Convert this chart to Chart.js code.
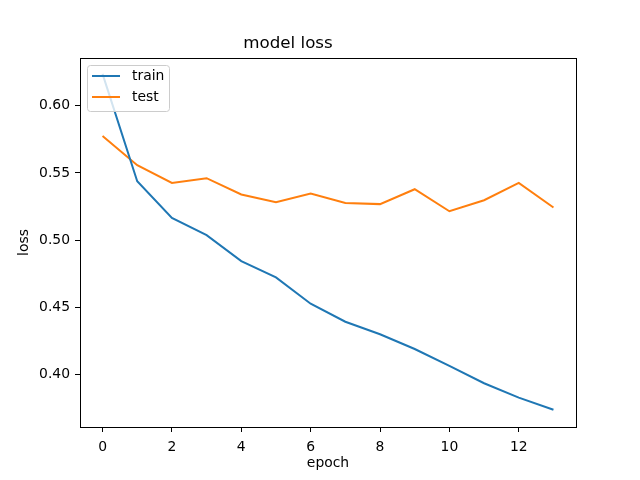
<!DOCTYPE html>
<html><head><meta charset="utf-8">
<script src="https://cdn.jsdelivr.net/npm/chart.js@4/dist/chart.umd.min.js"></script>
<style>html,body{margin:0;padding:0;background:#fff}#wrap{width:640px;height:480px}</style>
</head><body><div id="wrap"><canvas id="c" width="640" height="480"></canvas></div>
<script>
const epochs = [0,1,2,3,4,5,6,7,8,9,10,11,12,13];
const trainLoss = [0.6238,0.5438,0.5166,0.5037,0.4844,0.4722,0.4526,0.4392,0.4299,0.4189,0.4063,0.3934,0.3827,0.3736];
const testLoss  = [0.5775,0.5558,0.5426,0.5461,0.5340,0.5282,0.5347,0.5277,0.5268,0.5379,0.5215,0.5297,0.5426,0.5243];
const xTicks = [0,2,4,6,8,10,12];
const yTicks = [0.40,0.45,0.50,0.55,0.60];

const FONT = "'DejaVu Sans', sans-serif";
Chart.defaults.font.family = FONT;
Chart.defaults.color = '#000';

const framePlugin = {
  id: 'frame',
  afterDatasetsDraw(chart) {
    const {ctx, chartArea: a} = chart;
    ctx.save();
    ctx.strokeStyle = '#000'; ctx.lineWidth = 1;
    ctx.strokeRect(Math.round(a.left)+0.5, Math.round(a.top)+0.5, Math.round(a.right-a.left), Math.round(a.bottom-a.top));
    // legend
    const x0 = Math.round(a.left) + 7, y0 = Math.round(a.top) + 7, w = 82, h = 46;
    ctx.fillStyle = 'rgba(255,255,255,0.8)';
    ctx.strokeStyle = '#cccccc';
    ctx.beginPath();
    if (ctx.roundRect) ctx.roundRect(x0+0.5, y0+0.5, w, h, 3); else ctx.rect(x0+0.5,y0+0.5,w,h);
    ctx.fill(); ctx.stroke();
    ctx.font = "13.9px " + FONT;
    ctx.textBaseline = 'middle';
    chart.data.datasets.forEach((ds, i) => {
      const yy = y0 + 11 + i*21;
      ctx.strokeStyle = ds.borderColor; ctx.lineWidth = 2;
      ctx.beginPath(); ctx.moveTo(x0+5, yy); ctx.lineTo(x0+33, yy); ctx.stroke();
      ctx.fillStyle = '#000';
      ctx.fillText(ds.label, x0+45, yy);
    });
    ctx.restore();
  }
};

new Chart(document.getElementById('c'), {
  type: 'line',
  data: {
    datasets: [
      {label:'train', data: epochs.map((e,i)=>({x:e,y:trainLoss[i]})), borderColor:'#1f77b4', borderWidth:2, pointRadius:0, tension:0, fill:false},
      {label:'test', data: epochs.map((e,i)=>({x:e,y:testLoss[i]})), borderColor:'#ff7f0e', borderWidth:2, pointRadius:0, tension:0, fill:false}
    ]
  },
  options: {
    responsive:false, animation:false, devicePixelRatio:1,
    layout:{padding:{left:0,right:64,top:0,bottom:0}},
    plugins:{
      legend:{display:false}, tooltip:{enabled:false},
      title:{display:true, text:'model loss', font:{size:16.7, weight:'normal', family:FONT, lineHeight:1.2}, color:'#000', padding:{top:34,bottom:4}}
    },
    scales:{
      x:{type:'linear', min:-0.65, max:13.65,
        afterBuildTicks(s){ s.ticks = xTicks.map(v=>({value:v})); },
        afterFit(s){ s.height = 53; },
        ticks:{font:{size:13.9}, color:'#000', padding:7, maxRotation:0, callback:v=>String(v)},
        grid:{drawOnChartArea:false, drawTicks:true, tickLength:5, tickColor:'#000'},
        border:{display:false},
        title:{display:true, text:'epoch', font:{size:13.9}, color:'#000', padding:{top:2,bottom:8}}
      },
      y:{type:'linear', min:0.3608, max:0.6356,
        afterBuildTicks(s){ s.ticks = yTicks.map(v=>({value:v})); },
        afterFit(s){ s.width = 80; },
        ticks:{font:{size:13.9}, color:'#000', padding:5, callback:v=>v.toFixed(2)},
        grid:{drawOnChartArea:false, drawTicks:true, tickLength:5, tickColor:'#000'},
        border:{display:false},
        title:{display:true, text:'loss', font:{size:13.9}, color:'#000', padding:{top:16,bottom:4}}
      }
    }
  },
  plugins:[framePlugin]
});
</script></body></html>
